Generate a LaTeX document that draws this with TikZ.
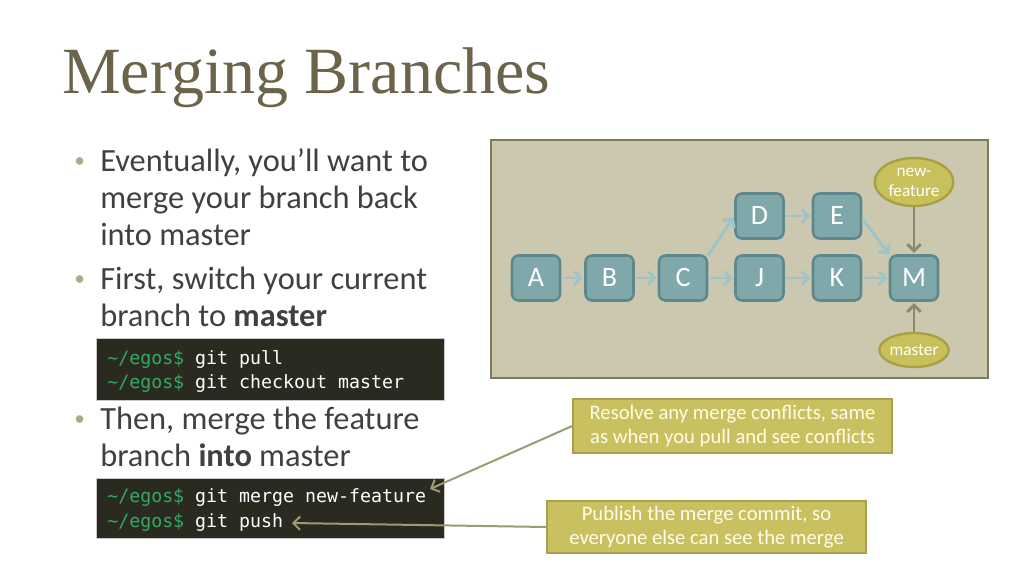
\documentclass[tikz,border=0pt]{standalone}
\usepackage{fontspec}
\setmainfont{Carlito}
\newfontfamily\titlefont{Liberation Serif}
\newfontfamily\codefont{DejaVu Sans Mono}
\usetikzlibrary{arrows.meta,shapes.geometric}
\definecolor{titlec}{RGB}{107,100,74}
\definecolor{bodyc}{RGB}{64,64,64}
\definecolor{bulletc}{RGB}{168,172,140}
\definecolor{panelfill}{RGB}{204,200,176}
\definecolor{paneldraw}{RGB}{125,124,90}
\definecolor{nodefill}{RGB}{127,168,171}
\definecolor{nodedraw}{RGB}{94,136,140}
\definecolor{tealarrow}{RGB}{156,197,202}
\definecolor{ellfill}{RGB}{200,192,90}
\definecolor{elldraw}{RGB}{168,160,70}
\definecolor{olivearrow}{RGB}{140,137,106}
\definecolor{callfill}{RGB}{201,193,96}
\definecolor{calldraw}{RGB}{168,160,74}
\definecolor{calltext}{RGB}{255,253,232}
\definecolor{codebg}{RGB}{42,42,32}
\definecolor{promptc}{RGB}{52,170,100}
\definecolor{linkc}{RGB}{156,156,114}
\pgfdeclareradialshading{vign}{\pgfpoint{0bp}{0bp}}{color(0bp)=(white); color(60bp)=(white); color(95bp)=(black!14)}
\tikzset{
  body/.style={anchor=base west, inner sep=0pt, text=bodyc, font=\fontsize{24.3}{28}\selectfont},
  bul/.style={anchor=base west, inner sep=0pt, text=bulletc, font=\fontsize{16}{20}\selectfont},
  commit/.style={draw=nodedraw, fill=nodefill, line width=1.9pt, rounded corners=5pt,
    minimum width=36pt, minimum height=33.75pt, inner sep=0pt, text=white,
    font=\fontsize{21}{24}\selectfont},
  tarrow/.style={draw=tealarrow, line width=2.2pt, -{Straight Barb[length=5pt,width=10pt]}, shorten >=1pt, shorten <=1pt},
  oarrow/.style={draw=olivearrow, line width=2.2pt, -{Straight Barb[length=5pt,width=10pt]}},
  label/.style={ellipse, draw=elldraw, fill=ellfill, line width=1.8pt, inner sep=0pt, text=white,
    align=center, font=\fontsize{13}{15}\selectfont},
  callout/.style={draw=calldraw, fill=callfill, line width=1.5pt, inner sep=0pt, text=calltext,
    align=center, minimum width=239pt, font=\fontsize{15.5}{18}\selectfont},
  codebox/.style={draw=black!22, line width=0.6pt, fill=codebg, minimum width=261pt, inner sep=0pt},
  code/.style={anchor=base west, inner sep=0pt, text=white, font=\codefont\fontsize{13.7}{16}\selectfont},
  link/.style={draw=linkc, line width=1.5pt, -{Straight Barb[length=5pt,width=10pt]}}
}
\newcommand{\prompt}{\textcolor{promptc}{\textasciitilde/egos\$}}
\begin{document}
\begin{tikzpicture}[x=0.75pt,y=-0.75pt]
\useasboundingbox (0,0) rectangle (1024,576);
\begin{scope}
\clip (0,0) rectangle (1024,576);
\shade[shading=vign] (-200,-200) rectangle (1224,776);
\end{scope}

% title
\node[anchor=base west, inner sep=0pt, text=titlec, font=\titlefont\fontsize{49.5}{54}\selectfont] (title) at (62,93) {Merging Branches};

% bullets
\node[bul] (b1) at (74,167) {\textbullet};
\node[body] (t1) at (100,171) {Eventually, you’ll want to};
\node[body] (t2) at (100,208) {merge your branch back};
\node[body] (t3) at (100,245) {into master};
\node[bul] (b2) at (74,285) {\textbullet};
\node[body] (t4) at (100,289) {First, switch your current};
\node[body] (t5) at (100,326) {branch to \textbf{master}};
\node[bul] (b3) at (74,425) {\textbullet};
\node[body] (t6) at (100,429) {Then, merge the feature};
\node[body] (t7) at (100,466) {branch \textbf{into} master};

% code boxes
\node[codebox, minimum height=46.5pt] (code1) at (270,369) {};
\node[code] (c1) at (107,364) {\prompt{} git pull};
\node[code] (c2) at (107,388) {\prompt{} git checkout master};
\node[codebox, minimum height=45pt] (code2) at (270,508) {};
\node[code] (c3) at (107,502) {\prompt{} git merge new-feature};
\node[code] (c4) at (107,527) {\prompt{} git push};

% panel
\node[draw=paneldraw, fill=panelfill, line width=2.2pt, minimum width=372.75pt, minimum height=178.5pt, inner sep=0pt] (panel) at (739.5,259) {};

% commits
\node[commit] (A) at (536,278) {A};
\node[commit] (B) at (609.5,278) {B};
\node[commit] (C) at (683,278) {C};
\node[commit] (J) at (759.5,278) {J};
\node[commit] (K) at (837,278) {K};
\node[commit] (M) at (914,278) {M};
\node[commit] (D) at (759.5,216) {D};
\node[commit] (E) at (837,216) {E};

\draw[tarrow] (A) -- (B);
\draw[tarrow] (B) -- (C);
\draw[tarrow] (C) -- (J);
\draw[tarrow] (J) -- (K);
\draw[tarrow] (K) -- (M);
\draw[tarrow] (D) -- (E);
\draw[tarrow] ([xshift=-1pt,yshift=-2pt]C.north east) -- (D.west);
\draw[tarrow] ([yshift=-2pt]E.east) -- ([xshift=1pt,yshift=-1pt]M.north west);

% branch labels
\node[label, minimum width=59pt, minimum height=36pt] (nf) at (914,182) {new-\\feature};
\node[label, minimum width=52pt, minimum height=25.5pt] (ms) at (914,350) {master};
\draw[oarrow] (nf.south) -- ([yshift=1pt]M.north);
\draw[oarrow] (ms.north) -- ([yshift=-1pt]M.south);

% callouts
\node[callout, minimum height=40.5pt] (call1) at (732.5,426) {Resolve any merge conflicts, same\\as when you pull and see conflicts};
\node[callout, minimum height=39pt] (call2) at (706.5,527) {Publish the merge commit, so\\everyone else can see the merge};

\coordinate (mergeend) at (430,489);
\coordinate (pushend) at (292,523);
\draw[link] (call1.west) -- (mergeend);
\draw[link] (call2.west) -- (pushend);
\end{tikzpicture}
\end{document}
